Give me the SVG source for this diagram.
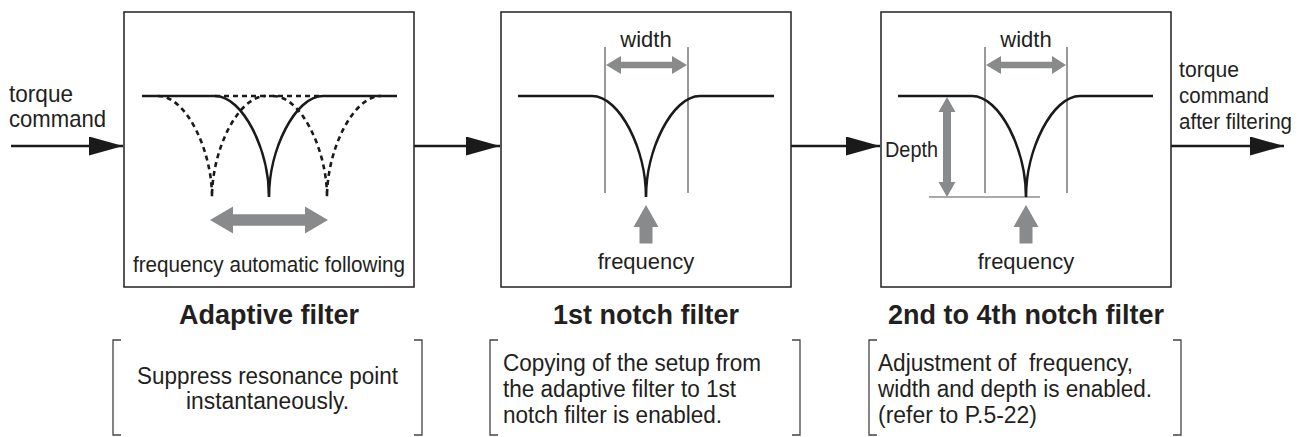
<svg xmlns="http://www.w3.org/2000/svg" width="1309" height="437" viewBox="0 0 1309 437">
<style>
.box{fill:#fff;stroke:#231f20;stroke-width:1.5}
.curve{fill:none;stroke:#1a1a1a;stroke-width:2.6}
.dash{fill:none;stroke:#1a1a1a;stroke-width:2.6;stroke-dasharray:5 4}
.thin{fill:none;stroke:#555;stroke-width:1.2}
.gray{fill:#898a8c;stroke:none}
.conn{fill:none;stroke:#1a1a1a;stroke-width:2.6}
.br{fill:none;stroke:#444;stroke-width:1.3}
text{font-family:"Liberation Sans",Arial,Helvetica,sans-serif;fill:#231f20}
.lbl{font-size:22px}
.big{font-size:24px}
.ttl{font-size:27px;font-weight:bold}
.dsc{font-size:23px}
</style>
<defs>
<marker id="ah" markerWidth="34" markerHeight="19" refX="34" refY="9.5" orient="auto" markerUnits="userSpaceOnUse">
<polygon points="0,0 34,9.5 0,19" fill="#1a1a1a"/>
</marker>
</defs>

<g id="connectors">
<line class="conn" x1="11" y1="146" x2="123" y2="146" marker-end="url(#ah)"/>
<line class="conn" x1="414" y1="146" x2="500" y2="146" marker-end="url(#ah)"/>
<line class="conn" x1="791" y1="146" x2="880" y2="146" marker-end="url(#ah)"/>
<line class="conn" x1="1171" y1="146" x2="1284" y2="146" marker-end="url(#ah)"/>
<text class="big" x="9" y="102" textLength="64" lengthAdjust="spacingAndGlyphs">torque</text>
<text class="big" x="9" y="127" textLength="97" lengthAdjust="spacingAndGlyphs">command</text>
<text class="lbl" x="1179" y="77" textLength="60" lengthAdjust="spacingAndGlyphs">torque</text>
<text class="lbl" x="1179" y="103" textLength="90" lengthAdjust="spacingAndGlyphs">command</text>
<text class="lbl" x="1179" y="129" textLength="113" lengthAdjust="spacingAndGlyphs">after filtering</text>
</g>

<g id="adaptive-filter">
<rect class="box" x="124" y="12" width="290" height="275"/>
<path class="dash" d="M158,96 C186,96 212,150 212,197 C212,150 238,96 266,96"/>
<path class="dash" d="M273,96 C301,96 327,150 327,197 C327,150 353,96 381,96"/>
<path class="dash" d="M215,96 L323,96"/>
<path class="curve" d="M142,96 L215,96 C243,96 269,150 269,197 C269,150 295,96 323,96 L397,96"/>
<polygon class="gray" points="210,220 233,206.5 233,214.2 305,214.2 305,206.5 328,220 305,233.5 305,225.8 233,225.8 233,233.5"/>
<text class="lbl" x="269" y="272" text-anchor="middle" font-size="23" textLength="272" lengthAdjust="spacingAndGlyphs">frequency automatic following</text>
<text class="ttl" x="269" y="324" text-anchor="middle">Adaptive filter</text>
<path class="br" d="M121,340 L113,340 L113,435 L121,435 M414,340 L422,340 L422,435 L414,435"/>
<text class="dsc" x="267.5" y="384" text-anchor="middle" font-size="22.5" textLength="261" lengthAdjust="spacingAndGlyphs">Suppress resonance point</text>
<text class="dsc" x="267.5" y="408.5" text-anchor="middle" font-size="22.5" textLength="163" lengthAdjust="spacingAndGlyphs">instantaneously.</text>
</g>

<g id="notch-1">
<rect class="box" x="501" y="12" width="290" height="275"/>
<line class="thin" x1="605" y1="47" x2="605" y2="193"/>
<line class="thin" x1="688" y1="47" x2="688" y2="193"/>
<path class="curve" d="M518,96 L592,96 C620,96 646,150 646,197 C646,150 672,96 700,96 L774,96"/>
<polygon class="gray" points="606,65 621,56 621,61.7 672,61.7 672,56 687,65 672,74 672,68.3 621,68.3 621,74"/>
<text class="lbl" x="646" y="47" text-anchor="middle">width</text>
<polygon class="gray" points="646,205 658.5,227 652.5,227 652.5,243.5 639.5,243.5 639.5,227 633.5,227"/>
<text class="lbl" x="646" y="269" text-anchor="middle">frequency</text>
<text class="ttl" x="646" y="324" text-anchor="middle">1st notch filter</text>
<path class="br" d="M498,340 L490,340 L490,435 L498,435 M792,340 L800,340 L800,435 L792,435"/>
<text class="dsc" x="503" y="371" textLength="258" lengthAdjust="spacingAndGlyphs">Copying of the setup from</text>
<text class="dsc" x="503" y="397" textLength="233" lengthAdjust="spacingAndGlyphs">the adaptive filter to 1st</text>
<text class="dsc" x="503" y="423" textLength="219" lengthAdjust="spacingAndGlyphs">notch filter is enabled.</text>
</g>

<g id="notch-2-4">
<rect class="box" x="881" y="12" width="290" height="275"/>
<line class="thin" x1="985" y1="47" x2="985" y2="193"/>
<line class="thin" x1="1067" y1="47" x2="1067" y2="193"/>
<line class="thin" x1="929" y1="197" x2="1040" y2="197"/>
<path class="curve" d="M898,96 L972,96 C1000,96 1026,150 1026,197 C1026,150 1052,96 1080,96 L1153,96"/>
<polygon class="gray" points="986,65 1001,56 1001,61.7 1052,61.7 1052,56 1066,65 1052,74 1052,68.3 1001,68.3 1001,74"/>
<text class="lbl" x="1026" y="47" text-anchor="middle">width</text>
<polygon class="gray" points="947,97 955.5,112 951,112 951,182 955.5,182 947,197 938.5,182 943,182 943,112 938.5,112"/>
<text class="lbl" x="885" y="157" textLength="53" lengthAdjust="spacingAndGlyphs">Depth</text>
<polygon class="gray" points="1026,205 1038.5,227 1032.5,227 1032.5,243.5 1019.5,243.5 1019.5,227 1013.5,227"/>
<text class="lbl" x="1026" y="269" text-anchor="middle">frequency</text>
<text class="ttl" x="1026" y="324" text-anchor="middle">2nd to 4th notch filter</text>
<path class="br" d="M877,340 L869,340 L869,435 L877,435 M1173,340 L1181,340 L1181,435 L1173,435"/>
<text class="dsc" x="878" y="371" textLength="255" lengthAdjust="spacingAndGlyphs">Adjustment of&#160; frequency,</text>
<text class="dsc" x="878" y="397" textLength="274" lengthAdjust="spacingAndGlyphs">width and depth is enabled.</text>
<text class="dsc" x="878" y="423" textLength="159" lengthAdjust="spacingAndGlyphs">(refer to P.5-22)</text>
</g>
</svg>
